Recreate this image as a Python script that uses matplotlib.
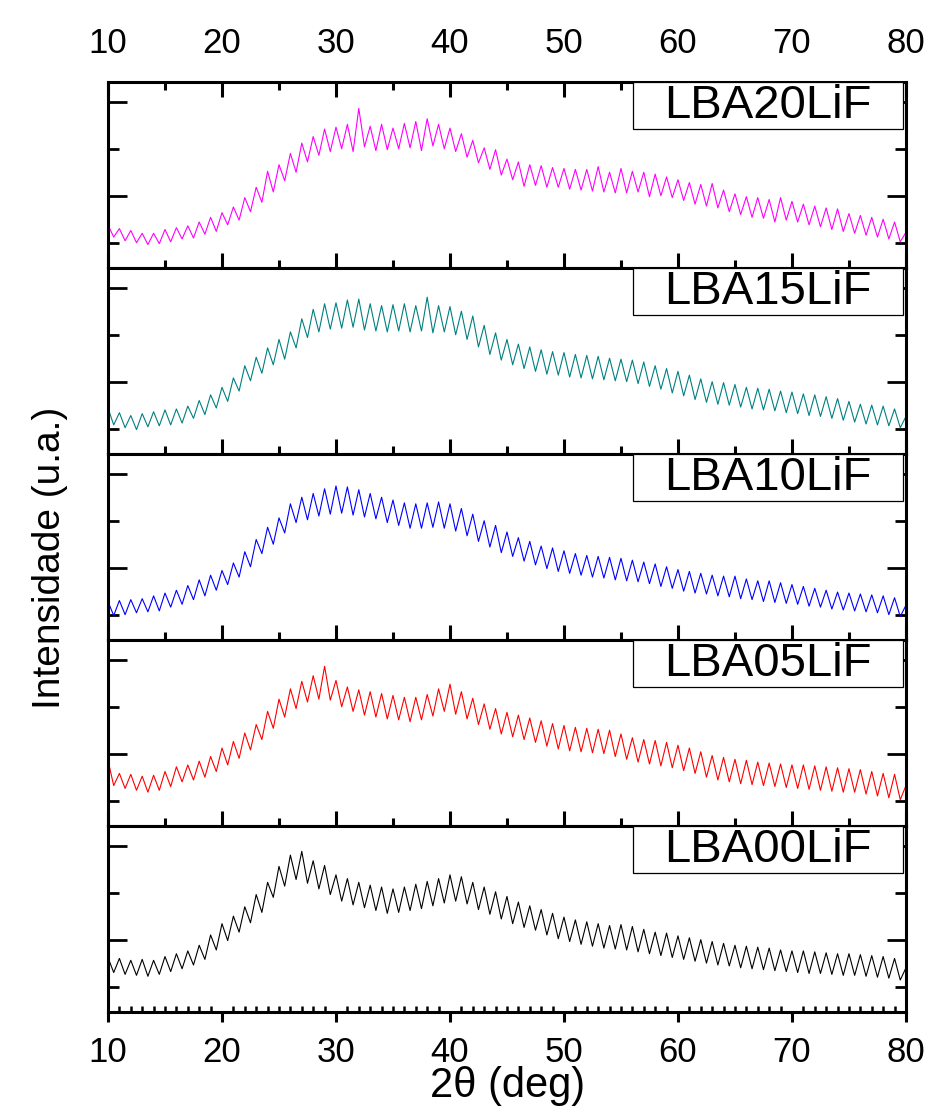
#!/usr/bin/env python3
"""stacked XRD patterns of the LBA glasses with increasing LiF content"""
import numpy as np
import matplotlib.pyplot as plt

plt.rcParams['font.family'] = ['Liberation Sans', 'DejaVu Sans']

# 2-theta grid, 10..80 deg every 0.5 deg
two_theta = np.arange(10.0, 80.01, 0.5)

samples = ['LBA20LiF', 'LBA15LiF', 'LBA10LiF', 'LBA05LiF', 'LBA00LiF']
colors = ['#ff00ff', '#008080', '#0000ff', '#ff0000', '#000000']

# intensities (a.u.), one row per 5 deg
lba20 = [0.92, 0.66, 0.84, 0.58, 0.80, 0.54, 0.74, 0.50, 0.74, 0.52,
         0.82, 0.56, 0.86, 0.62, 0.90, 0.64, 0.98, 0.72, 1.08, 0.78,
         1.18, 0.92, 1.30, 1.02, 1.50, 1.20, 1.72, 1.40, 2.06, 1.62,
         2.20, 1.86, 2.44, 2.04, 2.66, 2.26, 2.80, 2.40, 2.96, 2.48,
         3.00, 2.54, 3.06, 2.48, 3.40, 2.58, 3.02, 2.50, 3.06, 2.52,
         2.98, 2.54, 3.08, 2.56, 3.12, 2.50, 3.18, 2.60, 3.06, 2.54,
         2.98, 2.48, 2.86, 2.36, 2.72, 2.24, 2.56, 2.10, 2.52, 1.98,
         2.32, 1.88, 2.26, 1.74, 2.20, 1.76, 2.18, 1.72, 2.14, 1.72,
         2.12, 1.68, 2.10, 1.66, 2.10, 1.64, 2.16, 1.62, 2.04, 1.60,
         2.12, 1.60, 2.06, 1.62, 2.04, 1.52, 2.00, 1.54, 1.94, 1.50,
         1.88, 1.44, 1.82, 1.36, 1.78, 1.32, 1.80, 1.28, 1.66, 1.20,
         1.58, 1.14, 1.52, 1.08, 1.50, 1.06, 1.46, 0.98, 1.50, 1.02,
         1.42, 0.98, 1.36, 0.92, 1.32, 0.88, 1.28, 0.82, 1.26, 0.78,
         1.16, 0.74, 1.12, 0.70, 1.08, 0.66, 1.04, 0.62, 0.98, 0.56,
         0.76]

lba15 = [0.98, 0.62, 0.88, 0.56, 0.82, 0.52, 0.86, 0.58, 0.90, 0.60,
         0.94, 0.62, 0.96, 0.66, 1.02, 0.76, 1.14, 0.84, 1.26, 0.98,
         1.42, 1.12, 1.62, 1.34, 1.88, 1.56, 2.06, 1.72, 2.26, 1.90,
         2.44, 2.02, 2.60, 2.26, 2.88, 2.48, 3.08, 2.60, 3.20, 2.66,
         3.22, 2.68, 3.28, 2.70, 3.30, 2.64, 3.20, 2.62, 3.16, 2.60,
         3.18, 2.62, 3.20, 2.60, 3.16, 2.62, 3.34, 2.58, 3.16, 2.60,
         3.14, 2.54, 3.04, 2.44, 2.94, 2.28, 2.74, 2.12, 2.58, 2.00,
         2.44, 1.90, 2.34, 1.82, 2.28, 1.76, 2.22, 1.70, 2.18, 1.68,
         2.16, 1.64, 2.12, 1.62, 2.10, 1.60, 2.08, 1.58, 2.04, 1.56,
         2.02, 1.54, 2.00, 1.50, 1.96, 1.44, 1.88, 1.38, 1.82, 1.30,
         1.76, 1.24, 1.68, 1.16, 1.60, 1.10, 1.54, 1.06, 1.52, 1.04,
         1.48, 1.00, 1.42, 0.96, 1.40, 0.94, 1.38, 0.92, 1.34, 0.88,
         1.32, 0.86, 1.28, 0.82, 1.26, 0.80, 1.22, 0.76, 1.18, 0.72,
         1.12, 0.68, 1.06, 0.64, 1.04, 0.62, 1.02, 0.60, 0.96, 0.56,
         0.80]

lba10 = [0.82, 0.52, 0.84, 0.54, 0.86, 0.58, 0.88, 0.60, 0.94, 0.62,
         1.00, 0.70, 1.06, 0.76, 1.16, 0.86, 1.28, 0.94, 1.38, 1.06,
         1.48, 1.18, 1.64, 1.34, 1.88, 1.56, 2.14, 1.84, 2.40, 2.04,
         2.60, 2.28, 2.90, 2.50, 3.04, 2.56, 3.12, 2.64, 3.22, 2.68,
         3.28, 2.70, 3.26, 2.66, 3.20, 2.62, 3.12, 2.58, 3.04, 2.50,
         2.98, 2.44, 2.92, 2.38, 2.90, 2.38, 2.92, 2.40, 2.94, 2.38,
         2.90, 2.32, 2.80, 2.22, 2.68, 2.10, 2.54, 1.98, 2.44, 1.86,
         2.30, 1.78, 2.18, 1.68, 2.10, 1.60, 2.00, 1.52, 1.96, 1.46,
         1.90, 1.42, 1.84, 1.38, 1.80, 1.34, 1.78, 1.32, 1.76, 1.28,
         1.74, 1.26, 1.70, 1.24, 1.66, 1.20, 1.62, 1.14, 1.56, 1.10,
         1.50, 1.04, 1.46, 1.00, 1.42, 0.98, 1.38, 0.94, 1.36, 0.92,
         1.36, 0.88, 1.30, 0.86, 1.26, 0.82, 1.26, 0.80, 1.22, 0.78,
         1.18, 0.76, 1.14, 0.72, 1.10, 0.70, 1.06, 0.66, 1.02, 0.64,
         1.00, 0.62, 0.98, 0.60, 0.96, 0.58, 0.94, 0.54, 0.90, 0.50,
         0.74]

lba05 = [1.40, 0.86, 1.12, 0.80, 1.10, 0.76, 1.06, 0.72, 1.08, 0.76,
         1.16, 0.84, 1.26, 0.94, 1.30, 0.98, 1.38, 1.04, 1.48, 1.16,
         1.66, 1.30, 1.80, 1.44, 1.98, 1.62, 2.16, 1.84, 2.44, 2.08,
         2.70, 2.32, 2.92, 2.50, 3.08, 2.64, 3.20, 2.70, 3.40, 2.68,
         3.10, 2.54, 2.96, 2.44, 2.90, 2.36, 2.86, 2.32, 2.82, 2.28,
         2.78, 2.26, 2.74, 2.22, 2.74, 2.26, 2.80, 2.34, 2.92, 2.44,
         3.02, 2.38, 2.86, 2.28, 2.72, 2.16, 2.60, 2.06, 2.50, 1.96,
         2.42, 1.90, 2.36, 1.84, 2.30, 1.78, 2.24, 1.70, 2.18, 1.64,
         2.14, 1.60, 2.10, 1.58, 2.08, 1.56, 2.06, 1.54, 2.04, 1.48,
         1.96, 1.42, 1.88, 1.36, 1.84, 1.32, 1.82, 1.28, 1.78, 1.24,
         1.72, 1.18, 1.66, 1.12, 1.58, 1.04, 1.50, 0.98, 1.46, 0.94,
         1.42, 0.90, 1.40, 0.88, 1.36, 0.86, 1.34, 0.84, 1.32, 0.82,
         1.30, 0.80, 1.30, 0.78, 1.28, 0.76, 1.26, 0.74, 1.24, 0.72,
         1.22, 0.72, 1.20, 0.68, 1.16, 0.64, 1.12, 0.60, 1.10, 0.56,
         0.86]

lba00 = [1.16, 0.84, 1.14, 0.80, 1.10, 0.78, 1.12, 0.76, 1.10, 0.80,
         1.18, 0.86, 1.24, 0.92, 1.30, 1.00, 1.42, 1.12, 1.64, 1.32,
         1.88, 1.52, 2.04, 1.70, 2.24, 1.90, 2.50, 2.12, 2.76, 2.44,
         3.10, 2.68, 3.34, 2.82, 3.42, 2.74, 3.22, 2.62, 3.12, 2.50,
         2.92, 2.36, 2.84, 2.28, 2.76, 2.22, 2.70, 2.16, 2.66, 2.10,
         2.62, 2.12, 2.66, 2.16, 2.72, 2.20, 2.78, 2.26, 2.84, 2.32,
         2.92, 2.36, 2.88, 2.30, 2.76, 2.18, 2.66, 2.08, 2.56, 1.98,
         2.46, 1.88, 2.34, 1.80, 2.26, 1.74, 2.18, 1.64, 2.10, 1.56,
         2.02, 1.50, 1.96, 1.44, 1.92, 1.40, 1.88, 1.36, 1.84, 1.34,
         1.86, 1.32, 1.82, 1.28, 1.76, 1.24, 1.70, 1.20, 1.68, 1.16,
         1.62, 1.12, 1.58, 1.08, 1.54, 1.04, 1.50, 1.00, 1.46, 0.98,
         1.42, 0.94, 1.40, 0.92, 1.38, 0.90, 1.36, 0.88, 1.32, 0.86,
         1.30, 0.84, 1.30, 0.82, 1.28, 0.82, 1.26, 0.80, 1.24, 0.78,
         1.24, 0.78, 1.22, 0.76, 1.20, 0.74, 1.18, 0.72, 1.14, 0.68,
         0.94]

intensities = [lba20, lba15, lba10, lba05, lba00]
x_major = [10, 20, 30, 40, 50, 60, 70, 80]

fig = plt.figure(figsize=(9.27, 11.09), dpi=100)
gs = fig.add_gridspec(5, 1, left=0.1165, right=0.9773, top=0.926,
                      bottom=0.0875, hspace=0)

for i in range(5):
    ax = fig.add_subplot(gs[i])
    ax.plot(two_theta, intensities[i], color=colors[i], lw=0.8)
    ax.set_xlim(10, 80)
    ax.set_ylim(0, 3.96)
    for s in ax.spines.values():
        s.set_linewidth(2.2)

    ax.set_yticks([1.53, 3.53])
    ax.set_yticks([0.53, 2.53], minor=True)
    ax.tick_params(axis='y', which='both', direction='in', left=True,
                   right=True, labelleft=False, width=2)
    ax.tick_params(axis='y', which='major', length=14)
    ax.tick_params(axis='y', which='minor', length=8)

    # sample name in a box at the upper right corner
    ax.add_patch(plt.Rectangle((0.658, 0.747), 0.338, 0.253,
                               transform=ax.transAxes, facecolor='white',
                               edgecolor='black', lw=0.9, zorder=5))
    ax.text(0.827, 0.870, samples[i], transform=ax.transAxes,
            ha='center', va='center', fontsize=34, zorder=6)

    ax.set_xticks(x_major)
    if i < 4:
        ax.set_xticks([15, 25, 35, 45, 55, 65, 75], minor=True)
        ax.tick_params(axis='x', which='both', direction='in', bottom=True,
                       top=(i == 0), labelbottom=False, labeltop=(i == 0),
                       width=2.2, labelsize=25, pad=16)
        ax.tick_params(axis='x', which='major', length=11)
        ax.tick_params(axis='x', which='minor', length=5.5)
    else:
        ax.set_xticks(np.arange(10, 81, 1), minor=True)
        ax.tick_params(axis='x', which='major', direction='out', length=7,
                       width=2.2, labelsize=25, pad=10, top=False)
        ax.tick_params(axis='x', which='minor', direction='in', length=4,
                       width=1.8, top=False)

fig.text(0.054, 0.497, 'Intensidade (u.a.)', rotation=90, ha='center',
         va='center', fontsize=28)
fig.text(0.547, 0.003, '2\u03b8 (deg)', ha='center', va='bottom',
         fontsize=30)

fig.savefig('out.png', dpi=100)
